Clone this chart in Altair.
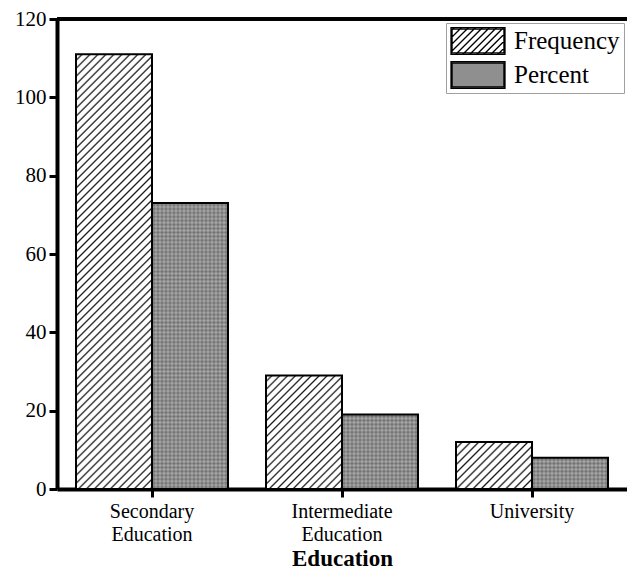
import altair as alt
import pandas as pd

# ---------------- data ----------------
categories = ["Secondary Education", "Intermediate Education", "University"]
series_names = ["Frequency", "Percent"]
frequency = [111, 29, 12]
percent = [73, 19, 8]
y_ticks = [0, 20, 40, 60, 80, 100, 120]

rows = []
for c, f, p in zip(categories, frequency, percent):
    rows.append({"Education": c, "series": "Frequency", "value": f})
    rows.append({"Education": c, "series": "Percent", "value": p})
df = pd.DataFrame(rows)

# ---------------- layout / style ----------------
W, H = 570, 470
YMAX = 120
PAD_IN, PAD_OUT = 0.2, 0.1
step = W / (len(categories) - PAD_IN + 2 * PAD_OUT)
bar_w = step * (1 - PAD_IN) / 2
FONT = "Liberation Serif"


def px_height(v):
    return v * H / YMAX


def diag_gradient(h, w=bar_w, spacing=8.0):
    # "/" hatch at 45 degrees expressed in bounding-box units
    r = h / w
    a = (1 + r) / (1 + r * r)
    n = max(1, round((w + h) / spacing))
    stops = []
    for i in range(n):
        stops.append({"offset": i / n, "color": "#ffffff"})
        stops.append({"offset": (i + 0.55) / n, "color": "#ffffff"})
        stops.append({"offset": (i + 0.78) / n, "color": "#1a1a1a"})
    stops.append({"offset": 1.0, "color": "#ffffff"})
    return {"gradient": "linear", "x1": 0, "y1": 0, "x2": a, "y2": r * a, "stops": stops}


def stripe_gradient(n, vertical=True, dark="#666666", light="#b4b4b4"):
    stops = []
    for i in range(n):
        stops.append({"offset": i / n, "color": light})
        stops.append({"offset": (i + 0.5) / n, "color": dark})
    stops.append({"offset": 1.0, "color": light})
    if vertical:
        return {"gradient": "linear", "x1": 0, "y1": 0, "x2": 1, "y2": 0, "stops": stops}
    return {"gradient": "linear", "x1": 0, "y1": 0, "x2": 0, "y2": 1, "stops": stops}


# legend symbol paths (unit square -1..1)
def rect(x0, y0, x1, y1):
    return f"M{x0:.3f},{y0:.3f}L{x1:.3f},{y0:.3f}L{x1:.3f},{y1:.3f}L{x0:.3f},{y1:.3f}Z"


outer = rect(-1, -0.5, 1, 0.5)
inner = rect(-0.96, -0.44, 0.96, 0.44)
hatch = ""
c = -1.5 + 0.13
while c < 1.5:
    xa = max(-1.0, c - 0.5)
    xb = min(1.0, c + 0.5)
    if xb > xa:
        hatch += f"M{xa:.3f},{c - xa:.3f}L{xb:.3f},{c - xb:.3f}"
    c += 0.26
freq_path = outer + inner + hatch
pct_path = outer + inner

# ---------------- encodings ----------------
x_axis = alt.Axis(
    title="Education",
    labelExpr="split(datum.label, ' ')",
    labelAngle=0,
    labelFont=FONT,
    labelFontSize=20,
    labelColor="black",
    labelPadding=4,
    labelLineHeight=23,
    labelBaseline="top",
    tickSize=8,
    tickWidth=3,
    tickColor="black",
    domainColor="black",
    domainWidth=4,
    titleFont=FONT,
    titleFontSize=23,
    titleFontWeight="bold",
    titleColor="black",
    titlePadding=3,
)
y_axis = alt.Axis(
    title=None,
    values=y_ticks,
    grid=False,
    labelFont=FONT,
    labelFontSize=21,
    labelColor="black",
    labelPadding=3,
    tickSize=8,
    tickWidth=3,
    tickColor="black",
    domainColor="black",
    domainWidth=4,
)
x_enc = alt.X(
    "Education:N",
    sort=categories,
    scale=alt.Scale(domain=categories, paddingInner=PAD_IN, paddingOuter=PAD_OUT),
    axis=x_axis,
)
xo_enc = alt.XOffset(
    "series:N", sort=series_names,
    scale=alt.Scale(domain=series_names, paddingInner=0, paddingOuter=0),
)
y_scale = alt.Scale(domain=[0, YMAX], nice=False)
y_enc = alt.Y("value:Q", scale=y_scale, axis=y_axis)

base = alt.Chart(df).encode(x=x_enc, xOffset=xo_enc, y=y_enc)

legend = alt.Legend(
    title=None,
    orient="none",
    legendX=389,
    legendY=4,
    symbolSize=2916,
    symbolStrokeColor="black",
    symbolStrokeWidth=1.3,
    clipHeight=28,
    labelFont=FONT,
    labelFontSize=25,
    labelColor="black",
    labelOffset=8,
    rowPadding=6,
    padding=4,
    strokeColor="#a0a0a0",
    fillColor="white",
)

# hidden points (covered by the bars) that carry the legend
legend_layer = base.transform_calculate(half="datum.value / 2").mark_point(
    filled=True, size=1, opacity=1
).encode(
    y=alt.Y("half:Q", scale=y_scale, axis=y_axis),
    fill=alt.Fill("series:N", scale=alt.Scale(domain=series_names, range=["#ffffff", "#8f8f8f"]), legend=legend),
    stroke=alt.Stroke("series:N", scale=alt.Scale(domain=series_names, range=["#000000", "#000000"]), legend=legend),
    shape=alt.Shape("series:N", scale=alt.Scale(domain=series_names, range=[freq_path, pct_path]), legend=legend),
)

layers = [legend_layer]

for cat, v in zip(categories, frequency):
    layers.append(
        base.transform_filter(
            f"datum.Education == '{cat}' && datum.series == 'Frequency'"
        ).mark_bar(fill=diag_gradient(px_height(v)), stroke="black", strokeWidth=2)
    )

layers.append(
    base.transform_filter("datum.series == 'Percent'").mark_bar(
        fill=stripe_gradient(max(1, round(bar_w / 3.9)), vertical=True)
    )
)
for cat, v in zip(categories, percent):
    n = max(1, round(px_height(v) / 3.9))
    layers.append(
        base.transform_filter(
            f"datum.Education == '{cat}' && datum.series == 'Percent'"
        ).mark_bar(
            fill=stripe_gradient(n, vertical=False), fillOpacity=0.45,
            stroke="black", strokeWidth=2, strokeOpacity=1,
        )
    )

# top frame line at the top of the value scale
top_line = alt.Chart(df).mark_rule(color="black", strokeWidth=3).encode(y=alt.datum(YMAX))
layers.append(top_line)

chart = alt.layer(*layers).properties(
    width=W,
    height=H,
    autosize=alt.AutoSizeParams(type="none"),
    padding={"left": 49, "top": 11, "right": 0, "bottom": 82},
    background="white",
).configure_view(stroke=None)

chart.save("out.html", embed_options={"renderer": "svg", "actions": False})
